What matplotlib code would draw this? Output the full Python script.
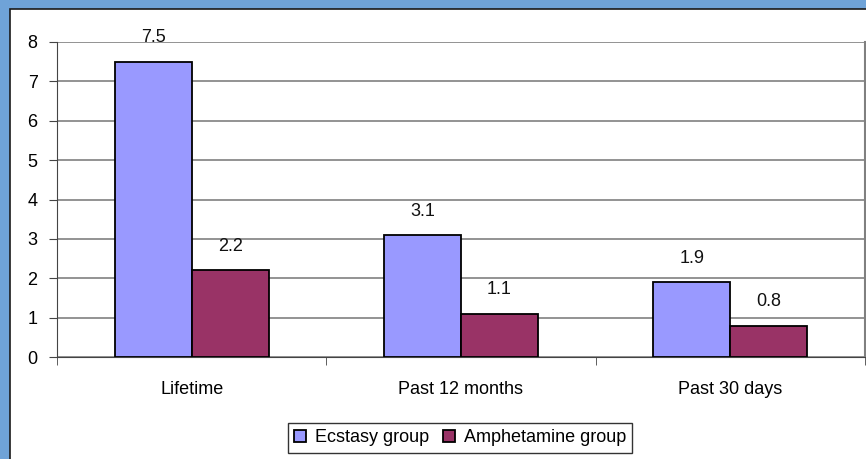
import matplotlib
matplotlib.use("Agg")
import matplotlib.pyplot as plt
import numpy as np
from matplotlib.patches import Rectangle

categories = ["Lifetime", "Past 12 months", "Past 30 days"]
ecstasy = [7.5, 3.1, 1.9]
amphetamine = [2.2, 1.1, 0.8]
series_names = ["Ecstasy group", "Amphetamine group"]
yticks = [0, 1, 2, 3, 4, 5, 6, 7, 8]

plt.rcParams['font.family'] = ['Liberation Sans', 'DejaVu Sans']
FS = 13

W, H = 866, 459
fig = plt.figure(figsize=(W / 100, H / 100), dpi=100)
fig.patch.set_facecolor('#6fa3d8')
# white chart area with dark border
bg = Rectangle((10 / W, -0.01), (W - 10) / W + 0.01, (H - 9) / H + 0.01, transform=fig.transFigure,
               facecolor='white', edgecolor='#1a1a1a', linewidth=1.2, zorder=-10)
fig.add_artist(bg)

ax = fig.add_axes([57 / W, (H - 357) / H, (865 - 57) / W, (357 - 42) / H])
ax.set_zorder(1)
ax.set_facecolor('white')

x = np.arange(len(categories))
bw = 0.286
b1 = ax.bar(x - bw / 2, ecstasy, bw, color='#9999ff', edgecolor='black', linewidth=1.3, zorder=3,
            label=series_names[0])
b2 = ax.bar(x + bw / 2, amphetamine, bw, color='#993366', edgecolor='black', linewidth=1.3, zorder=3,
            label=series_names[1])
for bars, vals in ((b1, ecstasy), (b2, amphetamine)):
    for r, v in zip(bars, vals):
        ax.annotate(f"{v}", (r.get_x() + r.get_width() / 2, v), xytext=(0, 11),
                    textcoords='offset points', ha='center', va='bottom', fontsize=FS, color='#111111')

ax.set_xlim(-0.5, len(categories) - 0.5)
ax.set_ylim(0, 8)
ax.set_yticks(yticks)
ax.set_yticklabels([str(t) for t in yticks], fontsize=FS)
ax.yaxis.grid(True, color='#808080', linewidth=1.2, zorder=0)
ax.set_axisbelow(True)
ax.set_xticks(x)
ax.set_xticklabels(categories, fontsize=FS)
ax.tick_params(axis='x', which='major', length=0, pad=17)
ax.set_xticks(np.arange(len(categories) + 1) - 0.5, minor=True)
ax.tick_params(axis='x', which='minor', length=6, direction='out', color='#444444')
ax.tick_params(axis='y', length=6, direction='out', color='#444444', pad=8)

ax.spines['top'].set_visible(False)
ax.spines['right'].set_color('#808080')
ax.spines['right'].set_linewidth(1.5)
ax.spines['left'].set_color('#444444')
ax.spines['bottom'].set_color('#444444')

leg = ax.legend(loc='center', bbox_to_anchor=(460 / W, 1 - 438 / H), bbox_transform=fig.transFigure,
                ncol=2, fontsize=FS, frameon=True, fancybox=False, edgecolor='black',
                handlelength=0.65, handleheight=0.65, handletextpad=0.5, columnspacing=0.8,
                borderpad=0.35)
leg.get_frame().set_linewidth(1.0)

fig.savefig("out.png", dpi=100, facecolor=fig.get_facecolor())
